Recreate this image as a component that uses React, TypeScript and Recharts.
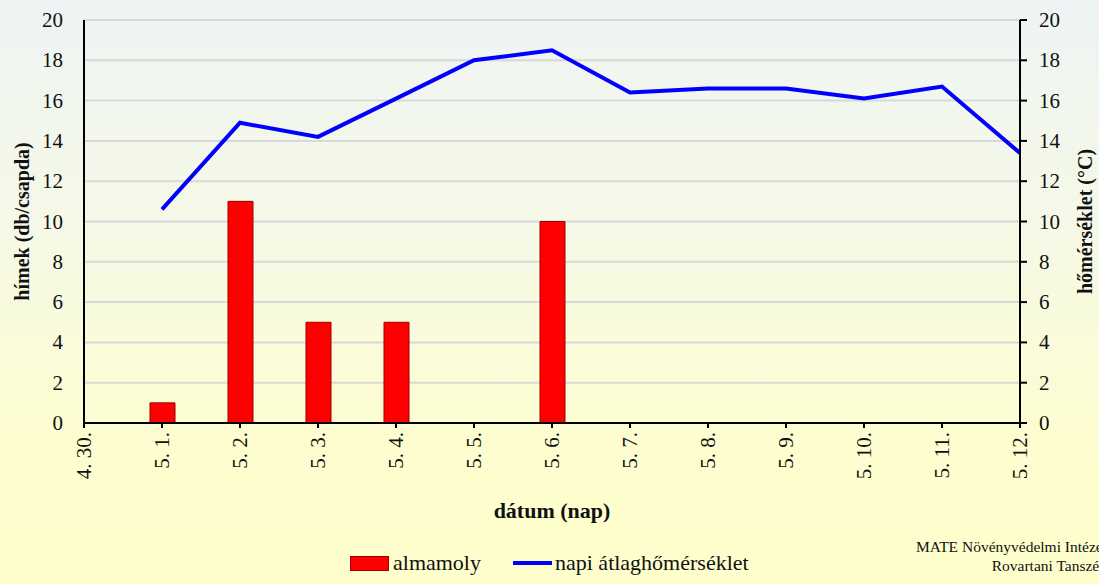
import React from 'react';
import { ComposedChart, Bar, Line, XAxis, YAxis, CartesianGrid, Label } from 'recharts';

const days = ['4. 30.', '5. 1.', '5. 2.', '5. 3.', '5. 4.', '5. 5.', '5. 6.', '5. 7.', '5. 8.', '5. 9.', '5. 10.', '5. 11.', '5. 12.'];
const almamoly = [null, 1, 11, 5, 5, null, 10, null, null, null, null, null, null];
const temperature = [null, 10.6, 14.9, 14.2, 16.1, 18.0, 18.5, 16.4, 16.6, 16.6, 16.1, 16.7, 13.4];
const yTicks = [0, 2, 4, 6, 8, 10, 12, 14, 16, 18, 20];

const data = days.map((d, i) => ({ d, moth: almamoly[i], temp: temperature[i] }));

const serif = 'Liberation Serif, Times New Roman, serif';

const XTick = (props: any) => {
  const { x, y, payload } = props;
  return (
    <g transform={`translate(${x},${y})`}>
      <text transform="rotate(-90)" x={0} y={0} textAnchor="end" dominantBaseline="central"
        fontSize={21} fontFamily={serif} fill="#111">
        {payload.value}
      </text>
    </g>
  );
};

const YTick = (props: any) => {
  const { x, y, payload, textAnchor } = props;
  return (
    <text x={x} y={y} textAnchor={textAnchor} dominantBaseline="central" fontSize={21} fontFamily={serif} fill="#111">
      {payload.value}
    </text>
  );
};

const sideTitle = (text: string, dx: number) => (p: any) => {
  const vb = p.viewBox;
  const cx = vb.x + dx;
  const cy = vb.y + vb.height / 2;
  return (
    <text x={cx} y={cy} transform={`rotate(-90, ${cx}, ${cy})`} textAnchor="middle" dominantBaseline="central"
      fontSize={20} fontWeight="bold" fontFamily={serif} fill="#111">
      {text}
    </text>
  );
};

const bottomTitle = (p: any) => {
  const vb = p.viewBox;
  return (
    <text x={vb.x + vb.width / 2} y={vb.y + 87} textAnchor="middle" dominantBaseline="central"
      fontSize={22} fontWeight="bold" fontFamily={serif} fill="#111">
      dátum (nap)
    </text>
  );
};

export default function App() {
  return (
    <div style={{ position: 'fixed', left: 0, top: 0, width: 1099, height: 584, overflow: 'hidden',
      background: 'linear-gradient(to bottom, #eef4f4 0%, #f6f9e6 40%, #fdfdd0 75%, #ffffcc 100%)', fontFamily: serif }}>
      <ComposedChart width={1099} height={584} data={data} margin={{ top: 20, right: 0, left: 0, bottom: 0 }}>
        <CartesianGrid yAxisId="left" vertical={false} stroke="#d8d8d8" strokeWidth={2} />
        <XAxis dataKey="d" scale="point" padding={{ left: 0, right: 0 }} height={161} interval={0}
          axisLine={{ stroke: '#000', strokeWidth: 2 }} tickLine={{ stroke: '#000', strokeWidth: 2 }}
          tickSize={5} tickMargin={4} tick={<XTick />}>
          <Label content={bottomTitle} />
        </XAxis>
        <YAxis yAxisId="left" width={84} domain={[0, 20]} ticks={yTicks} interval={0}
          axisLine={{ stroke: '#000', strokeWidth: 2 }} tickLine={false} tickSize={8} tickMargin={13}
          tick={<YTick />}>
          <Label content={sideTitle('hímek (db/csapda)', 22)} />
        </YAxis>
        <YAxis yAxisId="right" orientation="right" width={79} domain={[0, 20]} ticks={yTicks} interval={0}
          axisLine={{ stroke: '#000', strokeWidth: 2 }} tickLine={{ stroke: '#000', strokeWidth: 2 }} tickSize={7} tickMargin={12}
          tick={<YTick />}>
          <Label content={sideTitle('hőmérséklet (°C)', 65)} />
        </YAxis>
        <Bar yAxisId="left" dataKey="moth" barSize={25} fill="#ff0000" stroke="#990000" strokeWidth={1}
          isAnimationActive={false} />
        <Line yAxisId="right" dataKey="temp" type="linear" stroke="#0000ff" strokeWidth={4} dot={false}
          activeDot={false} isAnimationActive={false} />
      </ComposedChart>
      <div style={{ position: 'absolute', left: 350, top: 550, display: 'flex', alignItems: 'center', fontSize: 22, color: '#111', whiteSpace: 'nowrap' }}>
        <span style={{ display: 'inline-block', width: 37, height: 13, background: '#ff0000', border: '1px solid #990000', marginRight: 4 }} />
        <span>almamoly</span>
        <span style={{ display: 'inline-block', width: 39, height: 4, background: '#0000ff', marginLeft: 32, marginRight: 3 }} />
        <span>napi átlaghőmérséklet</span>
      </div>
      <div style={{ position: 'absolute', right: -8, top: 537, textAlign: 'right', fontSize: 15.5, lineHeight: '19px', color: '#111', whiteSpace: 'nowrap' }}>
        <div>MATE Növényvédelmi Intézet</div>
        <div>Rovartani Tanszék</div>
      </div>
    </div>
  );
}
